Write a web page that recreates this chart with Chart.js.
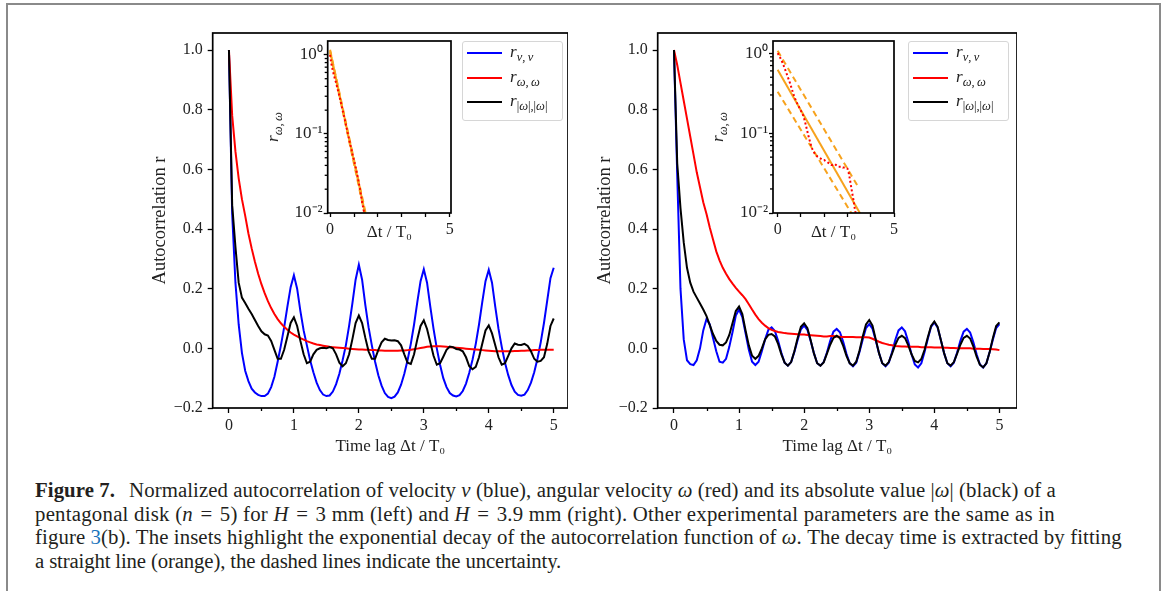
<!DOCTYPE html>
<html>
<head>
<meta charset="utf-8">
<script src="https://cdn.jsdelivr.net/npm/chart.js@4.4.1/dist/chart.umd.min.js"></script>
<style>
  body { margin: 0; background: #fff; width: 1163px; height: 591px; overflow: hidden; position: relative;
         font-family: 'Liberation Serif', serif; color: #231f20; }
  canvas { position: absolute; }
  .frame { position: absolute; left: 6px; top: 3px; width: 1151px; height: 620px;
           border: 2px solid #8a8a8a; border-bottom: none; }
  .legend { position: absolute; width: 101px; height: 80px; border: 1px solid #d6d6d6; border-radius: 3px;
            background: rgba(255,255,255,0.85); box-sizing: border-box; }
  .legend .row { position: absolute; left: 0; width: 100%; height: 20px; }
  .legend .sw { position: absolute; left: 4px; top: 8.8px; width: 35px; height: 2.6px; }
  .legend .lab { position: absolute; left: 47px; top: -1px; line-height: 20px; font-size: 17px; color: #222; white-space: nowrap; }
  sub { font-size: 12.5px; vertical-align: -4px; line-height: 0; }
  .ylab { position: absolute; transform: translate(-50%, -50%) rotate(-90deg); font-size: 17px; color: #222; white-space: nowrap; }
  .cap { position: absolute; left: 35px; font-size: 20.8px; line-height: 23.7px; white-space: nowrap; }
  .eq { margin: 0 2px; }
</style>
</head>
<body>
<div class="frame"></div>

<canvas id="mainL" width="428" height="440" style="left:140px;top:17px"></canvas>
<canvas id="mainR" width="432" height="440" style="left:585px;top:17px"></canvas>
<canvas id="insetL" width="211" height="215" style="left:250px;top:28px"></canvas>
<canvas id="insetR" width="209" height="215" style="left:695px;top:28px"></canvas>

<div class="ylab" style="left:273px;top:127px"><i>r</i><sub><i>ω</i>,&thinsp;<i>ω</i></sub></div>
<div class="ylab" style="left:718px;top:127px"><i>r</i><sub><i>ω</i>,&thinsp;<i>ω</i></sub></div>

<div class="legend" style="left:462px;top:41px">
  <div class="row" style="top:1px"><span class="sw" style="background:#0000ff"></span><span class="lab"><i>r</i><sub><i>v</i>,&thinsp;<i>v</i></sub></span></div>
  <div class="row" style="top:26px"><span class="sw" style="background:#ff0000"></span><span class="lab"><i>r</i><sub><i>ω</i>,&thinsp;<i>ω</i></sub></span></div>
  <div class="row" style="top:50px"><span class="sw" style="background:#000000"></span><span class="lab"><i>r</i><sub>|<i>ω</i>|,|<i>ω</i>|</sub></span></div>
</div>
<div class="legend" style="left:908px;top:41px">
  <div class="row" style="top:1px"><span class="sw" style="background:#0000ff"></span><span class="lab"><i>r</i><sub><i>v</i>,&thinsp;<i>v</i></sub></span></div>
  <div class="row" style="top:26px"><span class="sw" style="background:#ff0000"></span><span class="lab"><i>r</i><sub><i>ω</i>,&thinsp;<i>ω</i></sub></span></div>
  <div class="row" style="top:50px"><span class="sw" style="background:#000000"></span><span class="lab"><i>r</i><sub>|<i>ω</i>|,|<i>ω</i>|</sub></span></div>
</div>

<div class="cap" style="top:478px">
  <div style="letter-spacing:0.08px"><b>Figure 7.</b><span style="display:inline-block;width:14px"></span>Normalized autocorrelation of velocity <i>v</i> (blue), angular velocity <i>ω</i> (red) and its absolute value |<i>ω</i>| (black) of a</div>
  <div style="letter-spacing:0.24px">pentagonal disk (<i>n</i> <span class="eq">=</span> 5) for <i>H</i> <span class="eq">=</span> 3 mm (left) and <i>H</i> <span class="eq">=</span> 3.9 mm (right). Other experimental parameters are the same as in</div>
  <div style="letter-spacing:0.1px">figure <span style="color:#1a75bc">3</span>(b). The insets highlight the exponential decay of the autocorrelation function of <i>ω</i>. The decay time is extracted by fitting</div>
  <div style="letter-spacing:-0.15px">a straight line (orange), the dashed lines indicate the uncertainty.</div>
</div>

<script>
// time lag Δt/T0
const lag = [0,0.05,0.1,0.15,0.2,0.25,0.3,0.35,0.4,0.45,0.5,0.55,0.6,0.65,0.7,0.75,0.8,0.85,0.9,0.95,
  1,1.05,1.1,1.15,1.2,1.25,1.3,1.35,1.4,1.45,1.5,1.55,1.6,1.65,1.7,1.75,1.8,1.85,1.9,1.95,
  2,2.05,2.1,2.15,2.2,2.25,2.3,2.35,2.4,2.45,2.5,2.55,2.6,2.65,2.7,2.75,2.8,2.85,2.9,2.95,
  3,3.05,3.1,3.15,3.2,3.25,3.3,3.35,3.4,3.45,3.5,3.55,3.6,3.65,3.7,3.75,3.8,3.85,3.9,3.95,
  4,4.05,4.1,4.15,4.2,4.25,4.3,4.35,4.4,4.45,4.5,4.55,4.6,4.65,4.7,4.75,4.8,4.85,4.9,4.95,5];

// left panel, H = 3 mm
const leftV = [1.00,0.45,0.22,0.08,-0.015,-0.075,-0.11,-0.135,-0.148,-0.156,
  -0.16,-0.16,-0.152,-0.13,-0.095,-0.045,0.01,0.07,0.14,0.205,
  0.245,0.20,0.125,0.06,0.01,-0.04,-0.08,-0.115,-0.14,-0.155,
  -0.16,-0.158,-0.145,-0.12,-0.085,-0.04,0.01,0.075,0.15,0.23,
  0.28,0.23,0.145,0.07,0.01,-0.045,-0.09,-0.125,-0.15,-0.163,
  -0.167,-0.162,-0.148,-0.122,-0.085,-0.04,0.015,0.08,0.155,0.225,
  0.265,0.22,0.14,0.065,0.0,-0.055,-0.1,-0.13,-0.15,-0.158,
  -0.161,-0.157,-0.143,-0.118,-0.082,-0.038,0.015,0.08,0.155,0.225,
  0.263,0.22,0.14,0.065,0.005,-0.048,-0.09,-0.123,-0.145,-0.156,
  -0.159,-0.155,-0.14,-0.115,-0.08,-0.035,0.02,0.085,0.16,0.235,
  0.27];
const leftW = [1.00,0.78,0.66,0.57,0.50,0.445,0.385,0.335,0.29,0.25,
  0.215,0.185,0.158,0.135,0.115,0.098,0.084,0.072,0.062,0.053,
  0.046,0.04,0.034,0.029,0.024,0.02,0.016,0.013,0.011,0.009,
  0.007,0.005,0.004,0.003,0.002,0.001,0.0,-0.001,-0.002,-0.003,
  -0.004,-0.004,-0.005,-0.005,-0.006,-0.006,-0.007,-0.007,-0.008,-0.008,
  -0.008,-0.008,-0.008,-0.007,-0.007,-0.006,-0.005,-0.003,-0.001,0.001,
  0.003,0.005,0.006,0.007,0.007,0.007,0.006,0.005,0.004,0.003,
  0.002,0.001,0.0,-0.001,-0.002,-0.003,-0.004,-0.005,-0.006,-0.007,
  -0.008,-0.009,-0.01,-0.01,-0.01,-0.01,-0.01,-0.01,-0.009,-0.009,
  -0.008,-0.008,-0.007,-0.007,-0.006,-0.006,-0.005,-0.005,-0.005,-0.005,
  -0.005];
const leftA = [1.00,0.48,0.34,0.22,0.17,0.152,0.133,0.115,0.095,0.075,
  0.057,0.047,0.043,0.025,-0.005,-0.035,-0.035,-0.005,0.04,0.085,
  0.104,0.075,0.025,-0.02,-0.05,-0.045,-0.02,-0.005,0.0,0.002,
  0.0,0.004,0.0,-0.02,-0.048,-0.06,-0.05,-0.02,0.03,0.085,
  0.11,0.085,0.035,-0.01,-0.035,-0.035,-0.005,0.02,0.032,0.028,
  0.026,0.027,0.024,0.01,-0.02,-0.048,-0.052,-0.02,0.03,0.075,
  0.094,0.065,0.02,-0.025,-0.055,-0.05,-0.028,-0.005,0.006,0.004,
  -0.002,-0.004,-0.01,-0.03,-0.06,-0.07,-0.062,-0.03,0.015,0.06,
  0.077,0.05,0.01,-0.03,-0.055,-0.05,-0.025,0.0,0.016,0.012,
  0.011,0.015,0.008,-0.01,-0.035,-0.045,-0.042,-0.03,0.015,0.075,
  0.1];

// right panel, H = 3.9 mm
const rightV = [1.00,0.58,0.20,0.03,-0.04,-0.053,-0.056,-0.04,0.0,0.06,
  0.098,0.08,0.035,-0.01,-0.045,-0.048,-0.035,0.005,0.055,0.11,
  0.13,0.105,0.05,-0.005,-0.045,-0.056,-0.045,-0.01,0.03,0.062,
  0.07,0.058,0.025,-0.015,-0.048,-0.058,-0.046,-0.012,0.028,0.064,
  0.076,0.062,0.025,-0.016,-0.05,-0.058,-0.046,-0.014,0.025,0.056,
  0.065,0.054,0.022,-0.018,-0.05,-0.06,-0.048,-0.012,0.03,0.068,
  0.081,0.066,0.026,-0.016,-0.05,-0.06,-0.048,-0.013,0.028,0.06,
  0.07,0.057,0.022,-0.02,-0.054,-0.064,-0.05,-0.012,0.032,0.072,
  0.087,0.07,0.028,-0.016,-0.05,-0.06,-0.048,-0.014,0.025,0.056,
  0.065,0.053,0.02,-0.02,-0.054,-0.064,-0.05,-0.012,0.03,0.068,
  0.081];
const rightW = [1.00,0.95,0.89,0.83,0.77,0.71,0.65,0.59,0.54,0.49,
  0.45,0.405,0.365,0.325,0.295,0.27,0.25,0.232,0.217,0.203,
  0.19,0.178,0.165,0.148,0.13,0.113,0.098,0.086,0.076,0.068,
  0.062,0.058,0.055,0.053,0.051,0.05,0.049,0.048,0.047,0.046,
  0.046,0.045,0.044,0.043,0.042,0.041,0.04,0.04,0.041,0.041,
  0.04,0.039,0.038,0.038,0.038,0.038,0.037,0.037,0.037,0.037,
  0.036,0.032,0.027,0.022,0.018,0.015,0.012,0.01,0.008,0.007,
  0.006,0.006,0.005,0.005,0.005,0.005,0.004,0.004,0.004,0.004,
  0.003,0.003,0.003,0.002,0.002,0.001,0.001,0.0,0.0,0.0,
  0.0,0.0,-0.001,-0.001,-0.001,-0.002,-0.002,-0.002,-0.003,-0.004,
  -0.006];
const rightA = [1.00,0.62,0.47,0.355,0.27,0.22,0.19,0.17,0.15,0.13,
  0.108,0.078,0.048,0.025,0.012,0.01,0.02,0.045,0.085,0.125,
  0.14,0.115,0.06,0.01,-0.025,-0.035,-0.025,0.0,0.03,0.045,
  0.048,0.04,0.015,-0.02,-0.048,-0.058,-0.046,-0.01,0.035,0.072,
  0.084,0.068,0.027,-0.017,-0.05,-0.058,-0.047,-0.018,0.012,0.035,
  0.042,0.034,0.008,-0.025,-0.05,-0.058,-0.045,-0.008,0.04,0.08,
  0.095,0.076,0.03,-0.016,-0.05,-0.058,-0.046,-0.018,0.012,0.035,
  0.042,0.034,0.01,-0.02,-0.042,-0.047,-0.036,-0.005,0.037,0.075,
  0.09,0.072,0.028,-0.016,-0.05,-0.058,-0.046,-0.018,0.012,0.035,
  0.042,0.033,0.006,-0.028,-0.055,-0.064,-0.05,-0.012,0.035,0.075,
  0.087];

// exponential fits shown in the insets (end points of straight lines on log axis)
const fitLagLeft = [0, 1.6];
const fitLeftMid = [1.12, 0.0064];
const fitLeftHigh = [1.16, 0.0069];
const fitLeftLow = [1.08, 0.0059];
const fitLagRight = [0, 3.55];
const fitRightMid = [0.62, 0.0098];
const fitLagRightDash = [0, 3.45];
const fitRightHigh = [1.07, 0.0215];
const fitRightLow = [0.33, 0.0073];

// ticks
const mainXTicks = [0, 1, 2, 3, 4, 5];
const mainXMinor = [0.5, 1.5, 2.5, 3.5, 4.5];
const mainYTicks = [-0.2, 0, 0.2, 0.4, 0.6, 0.8, 1.0];
const insetXTicks = [0, 1, 2, 3, 4, 5];
const insetXLabels = { 0: '0', 5: '5' };
const insetYTicks = [0.01, 0.1, 1];
const insetYLabels = ['10⁻²', '10⁻¹', '10⁰'];
const insetYMinor = [0.02, 0.03, 0.04, 0.05, 0.06, 0.07, 0.08, 0.09, 0.2, 0.3, 0.4, 0.5, 0.6, 0.7, 0.8, 0.9];

Chart.defaults.font.family = "'Liberation Serif', serif";
Chart.defaults.font.size = 16;
Chart.defaults.color = '#222';

const framePlugin = {
  id: 'frame',
  beforeDraw(chart, args, o) {
    if (!o.fill) return;
    const a = chart.chartArea, c = chart.ctx;
    c.save();
    c.fillStyle = '#fff';
    c.fillRect(a.left, a.top, a.right - a.left, a.bottom - a.top);
    c.restore();
  },
  afterDraw(chart, args, o) {
    const a = chart.chartArea, c = chart.ctx;
    c.save();
    c.strokeStyle = '#000';
    c.lineWidth = 1.3;
    (o.minorX || []).forEach(function(v) {
      const x = Math.round(chart.scales.x.getPixelForValue(v)) + 0.5;
      c.beginPath(); c.moveTo(x, a.bottom); c.lineTo(x, a.bottom + 3); c.stroke();
    });
    (o.minorY || []).forEach(function(v) {
      const y = chart.scales.y.getPixelForValue(v);
      if (y < a.top || y > a.bottom) return;
      c.beginPath(); c.moveTo(a.left, y); c.lineTo(a.left - 3, y); c.stroke();
    });
    c.lineWidth = 1.7;
    c.strokeRect(a.left, a.top, a.right - a.left, a.bottom - a.top);
    c.restore();
  }
};

function pts(xs, ys) {
  return xs.map(function(x, i) { return { x: x, y: ys[i] }; });
}

const tickGrid = { drawOnChartArea: false, tickLength: 5, tickColor: '#000', tickWidth: 1.3 };

function mainChart(id, v, w, a, xMax) {
  return new Chart(document.getElementById(id), {
    type: 'line',
    data: {
      datasets: [
        { data: pts(lag, a), borderColor: '#000000', order: 0 },
        { data: pts(lag, w), borderColor: '#ff0000', order: 1 },
        { data: pts(lag, v), borderColor: '#0000ff', order: 2 }
      ]
    },
    options: {
      responsive: false, animation: false, devicePixelRatio: 1,
      layout: { padding: { top: 16, right: 0, left: 0, bottom: 0 } },
      elements: { point: { radius: 0 }, line: { borderWidth: 2, tension: 0 } },
      plugins: { legend: { display: false }, tooltip: { enabled: false }, frame: { minorX: mainXMinor } },
      scales: {
        x: {
          type: 'linear', min: -0.25, max: xMax,
          afterBuildTicks: function(s) { s.ticks = mainXTicks.map(function(t) { return { value: t }; }); },
          afterFit: function(s) { s.height = 49; },
          ticks: { padding: 3, maxRotation: 0, autoSkip: false, callback: function(t) { return String(t); } },
          grid: tickGrid, border: { display: false },
          title: { display: true, text: 'Time lag Δt / T₀', padding: 0, font: { size: 17 } }
        },
        y: {
          type: 'linear', min: -0.2, max: 1.057,
          afterBuildTicks: function(s) { s.ticks = mainYTicks.map(function(t) { return { value: t }; }); },
          afterFit: function(s) { s.width = 72.7; },
          ticks: { padding: 5, autoSkip: false, callback: function(t) { return t.toFixed(1).replace('-', '−'); } },
          grid: tickGrid, border: { display: false },
          title: { display: true, text: 'Autocorrelation r', padding: { top: 9, bottom: 0 }, font: { size: 18.5 } }
        }
      }
    },
    plugins: [framePlugin]
  });
}

function insetChart(id, w, fits, xMin, xMax, yMax, yW) {
  const ds = [{ data: pts(lag, w).filter(function(p) { return p.y > 0; }), borderColor: '#ff0000',
                borderWidth: 2, borderDash: [2, 2.4], order: 0 }];
  fits.forEach(function(f, i) {
    ds.push({ data: pts(f.lag, f.val), borderColor: '#f7a21c', borderWidth: 2,
              borderDash: f.dash ? [6, 4] : [], order: i + 1 });
  });
  return new Chart(document.getElementById(id), {
    type: 'line',
    data: { datasets: ds },
    options: {
      responsive: false, animation: false, devicePixelRatio: 1,
      layout: { padding: { top: 13, right: 10, left: 0, bottom: 0 } },
      elements: { point: { radius: 0 }, line: { tension: 0 } },
      plugins: { legend: { display: false }, tooltip: { enabled: false }, frame: { minorY: insetYMinor, fill: true } },
      scales: {
        x: {
          type: 'linear', min: xMin, max: xMax,
          afterBuildTicks: function(s) { s.ticks = insetXTicks.map(function(t) { return { value: t }; }); },
          afterFit: function(s) { s.height = 30; },
          ticks: { padding: 3, maxRotation: 0, autoSkip: false,
                   callback: function(t) { return insetXLabels[t] !== undefined ? insetXLabels[t] : ''; } },
          grid: { drawOnChartArea: false, tickLength: 4, tickColor: '#000', tickWidth: 1.3 }, border: { display: false },
          title: { display: true, text: 'Δt / T₀', padding: 0, font: { size: 17 } }
        },
        y: {
          type: 'logarithmic', min: 0.01, max: yMax,
          afterBuildTicks: function(s) { s.ticks = insetYTicks.map(function(t) { return { value: t }; }); },
          afterFit: function(s) { s.width = yW; },
          ticks: { padding: 1, autoSkip: false, font: { size: 17 },
                   callback: function(t) { return insetYLabels[insetYTicks.indexOf(t)]; } },
          grid: { drawOnChartArea: false, tickLength: 4, tickColor: '#000', tickWidth: 1.3 }, border: { display: false }
        }
      }
    },
    plugins: [framePlugin]
  });
}

mainChart('mainL', leftV, leftW, leftA, 5.22);
mainChart('mainR', rightV, rightW, rightA, 5.27);

insetChart('insetL', leftW, [
  { lag: fitLagLeft, val: fitLeftHigh, dash: true },
  { lag: fitLagLeft, val: fitLeftLow, dash: true },
  { lag: fitLagLeft, val: fitLeftMid, dash: false }
], -0.1, 5.05, 1.5, 77.7);

insetChart('insetR', rightW, [
  { lag: fitLagRightDash, val: fitRightHigh, dash: true },
  { lag: fitLagRightDash, val: fitRightLow, dash: true },
  { lag: fitLagRight, val: fitRightMid, dash: false }
], -0.2, 5.0, 1.42, 78);
</script>
</body>
</html>
